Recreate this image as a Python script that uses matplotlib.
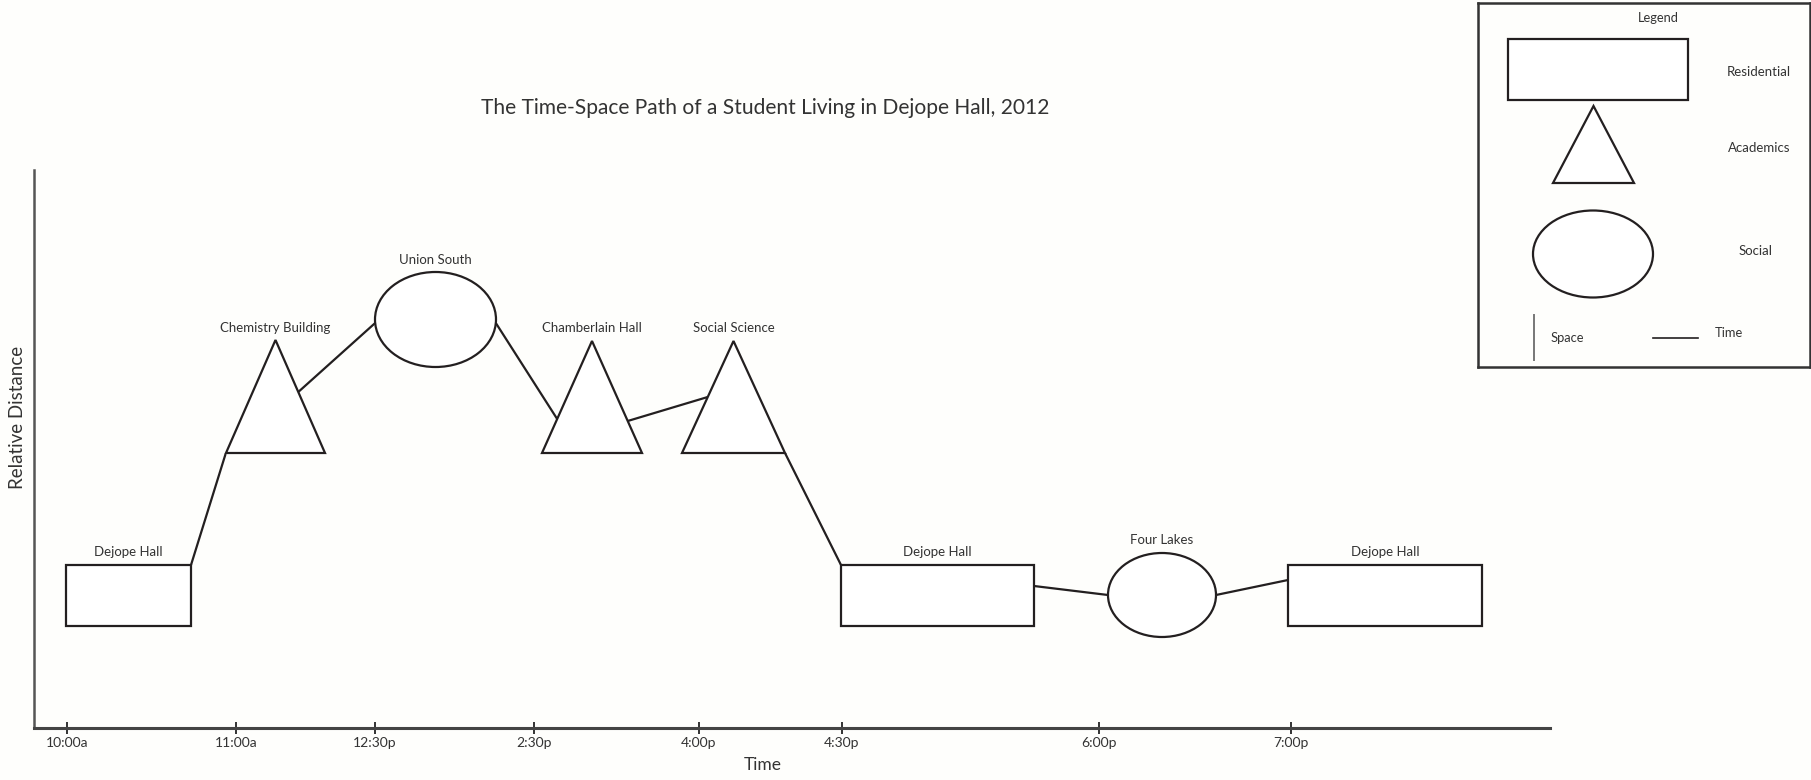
import numpy as np
import matplotlib
matplotlib.use("Agg")
import matplotlib.pyplot as plt
from matplotlib.patches import Rectangle, Polygon, Ellipse

plt.rcParams['font.family'] = ['Lato', 'DejaVu Sans']

# ---------------- data ----------------
title = "The Time-Space Path of a Student Living in Dejope Hall, 2012"
tick_labels = ["10:00a", "11:00a", "12:30p", "2:30p", "4:00p", "4:30p", "6:00p", "7:00p"]
tick_pos = [33, 202, 341, 500, 665, 808, 1065, 1257]          # position along time axis

stop_names = ["Dejope Hall", "Chemistry Building", "Union South", "Chamberlain Hall",
              "Social Science", "Dejope Hall", "Four Lakes", "Dejope Hall"]
stop_kinds = ["Residential", "Academics", "Social", "Academics",
              "Academics", "Residential", "Social", "Residential"]
stop_t0 = [32, 192, 341, 508, 648, 807, 1074, 1254]            # start (time axis)
stop_t1 = [157, 291, 462, 608, 751, 1000, 1182, 1448]          # end (time axis)
stop_d0 = [102, 275, 361, 275, 275, 102, 91, 102]              # lower relative distance
stop_d1 = [163, 388, 456, 387, 387, 163, 175, 163]             # upper relative distance

# path links between consecutive stops: height where path leaves / joins a stop
depart_d = [163, 336, 405, 307, 275, 142, 133]
arrive_d = [274, 405, 309, 331, 163, 133, 148]

legend_kinds = ["Residential", "Academics", "Social"]

# ---------------- style ----------------
INK = "#231f20"
TXT = "#333333"
LW = 1.6
BG = "#fefefc"

W, H = 1811, 780
fig = plt.figure(figsize=(W / 100, H / 100), dpi=100, facecolor=BG)

# main axes (units: time-axis position / relative distance)
ax = fig.add_axes([34 / W, 52 / H, 1516 / W, 558 / H])
ax.set_xlim(0, 1516)
ax.set_ylim(0, 558)
ax.set_facecolor("none")
for s in ["top", "right"]:
    ax.spines[s].set_visible(False)
ax.spines["left"].set_color("#555555")
ax.spines["left"].set_linewidth(1.8)
ax.spines["bottom"].set_color("#444444")
ax.spines["bottom"].set_linewidth(2.2)
ax.set_yticks([])
ax.set_xticks(tick_pos, tick_labels)
ax.tick_params(axis="x", direction="inout", length=9, width=1.4, color="#333333",
               pad=2, labelsize=10, labelcolor=TXT)
ax.set_xlabel("Time", fontsize=12.5, color=TXT)
ax.xaxis.set_label_coords(0.481, -0.052)
ax.set_ylabel("Relative Distance", fontsize=13.5, color=TXT)
ax.yaxis.set_label_coords(-0.005, 0.557)


def draw_shape(a, kind, x0, x1, y0, y1):
    if kind == "Residential":
        p = Rectangle((x0, y0), x1 - x0, y1 - y0)
    elif kind == "Academics":
        p = Polygon([(x0, y0), ((x0 + x1) / 2, y1), (x1, y0)], closed=True)
    else:
        p = Ellipse(((x0 + x1) / 2, (y0 + y1) / 2), x1 - x0, abs(y1 - y0))
    p.set_facecolor("white")
    p.set_edgecolor(INK)
    p.set_linewidth(LW)
    p.set_joinstyle("miter")
    a.add_patch(p)


def edge_x(kind, x0, x1, y0, y1, d, side):
    """x-coordinate on the left (side=-1) or right (side=+1) outline at height d."""
    xc = (x0 + x1) / 2
    if kind == "Residential":
        return x1 if side > 0 else x0
    if kind == "Academics":
        f = (d - y0) / (y1 - y0)
        return (x1 - f * (x1 - xc)) if side > 0 else (x0 + f * (xc - x0))
    yc, b, a_ = (y0 + y1) / 2, (y1 - y0) / 2, (x1 - x0) / 2
    return xc + side * a_ * np.sqrt(max(0.0, 1 - ((d - yc) / b) ** 2))


# path links
for i in range(len(stop_names) - 1):
    xa = edge_x(stop_kinds[i], stop_t0[i], stop_t1[i], stop_d0[i], stop_d1[i], depart_d[i], +1)
    xb = edge_x(stop_kinds[i + 1], stop_t0[i + 1], stop_t1[i + 1], stop_d0[i + 1], stop_d1[i + 1],
                arrive_d[i], -1)
    ax.plot([xa, xb], [depart_d[i], arrive_d[i]], color=INK, lw=LW, solid_capstyle="butt", zorder=1)

# stops + labels
for name, kind, x0, x1, y0, y1 in zip(stop_names, stop_kinds, stop_t0, stop_t1, stop_d0, stop_d1):
    draw_shape(ax, kind, x0, x1, y0, y1)
    ax.annotate(name, ((x0 + x1) / 2, y1), xytext=(0, 9), textcoords="offset points",
                ha="center", va="center", fontsize=9.5, color=TXT)

# title
fig.text(765 / W, 1 - 108 / H, title, ha="center", va="center", fontsize=15.1, color=TXT)

# ---------------- legend box ----------------
lg = fig.add_axes([1478 / W, (780 - 367) / H, 332 / W, 364 / H])
lg.set_xlim(0, 332)
lg.set_ylim(364, 0)
lg.set_xticks([])
lg.set_yticks([])
lg.set_facecolor("none")
for s in lg.spines.values():
    s.set_color("#333333")
    s.set_linewidth(1.8)

lg.text(180, 15, "Legend", ha="center", va="center", fontsize=9.3, color=TXT)
legend_boxes = {"Residential": (30, 210, 97, 36),
                "Academics": (75, 156, 180, 103),
                "Social": (55, 175, 294.5, 207.5)}
legend_text_pos = {"Residential": (281, 69), "Academics": (281, 145), "Social": (278, 248)}
for kind in legend_kinds:
    x0, x1, y0, y1 = legend_boxes[kind]
    draw_shape(lg, kind, x0, x1, y0, y1)
    tx, ty = legend_text_pos[kind]
    lg.text(tx, ty, kind, ha="center", va="center", fontsize=9.5, color=TXT)

lg.plot([56, 56], [312, 357], color="#777777", lw=1.4)
lg.text(89, 335, "Space", ha="center", va="center", fontsize=9.3, color=TXT)
lg.plot([175, 220], [335, 335], color=INK, lw=1.2)
lg.text(251, 330, "Time", ha="center", va="center", fontsize=9.3, color=TXT)

fig.savefig("out.png", dpi=100, facecolor=BG)
